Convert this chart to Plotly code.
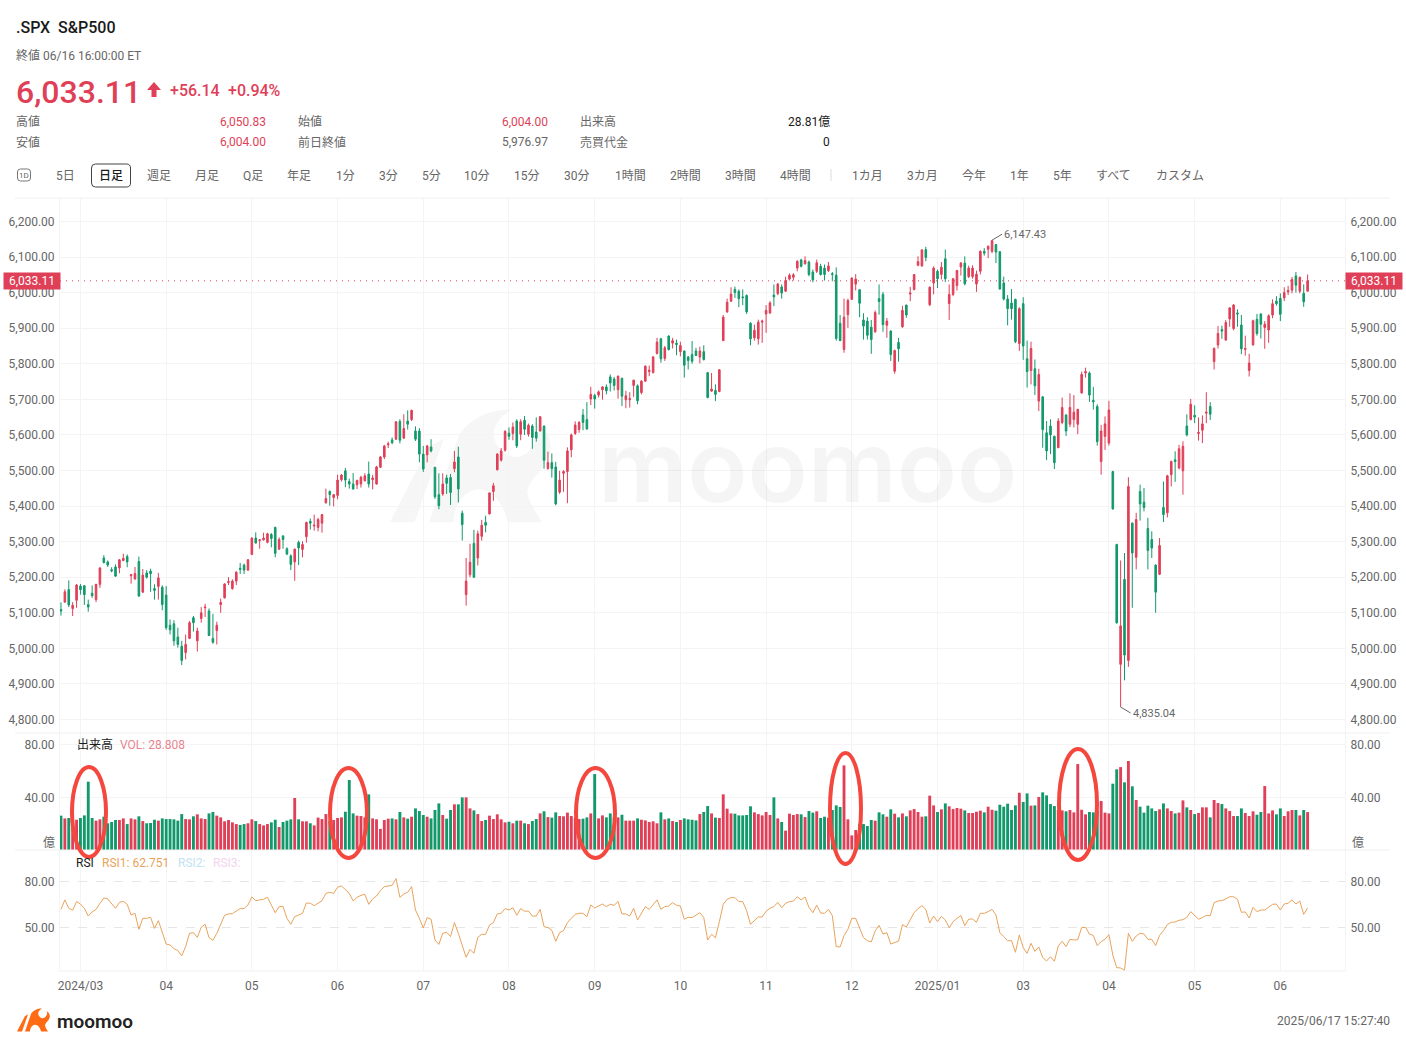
import plotly.graph_objects as go
from plotly.subplots import make_subplots

# Daily S&P500 candles
opens = [
    5109,5130,5165,5112,5135,5175,5176,5123,5155,5137,
    5180,5254,5243,5221,5229,5226,5247,5258,5204,5195,
    5244,5158,5212,5217,5168,5174,5172,5150,5065,5069,
    5032,5006,4988,5028,5086,5021,5084,5114,5105,5028,
    5050,5123,5142,5185,5168,5189,5225,5234,5220,5264,
    5310,5303,5305,5298,5320,5340,5279,5316,5280,5260,
    5243,5298,5278,5314,5357,5344,5340,5352,5409,5441,
    5424,5430,5474,5499,5469,5462,5460,5462,5471,5490,
    5474,5462,5509,5538,5572,5586,5588,5638,5591,5639,
    5643,5611,5611,5546,5544,5566,5509,5432,5434,5479,
    5480,5505,5538,5380,5151,5207,5295,5254,5315,5354,
    5378,5441,5502,5529,5557,5605,5604,5639,5602,5641,
    5602,5625,5608,5611,5625,5505,5522,5510,5439,5492,
    5497,5558,5604,5615,5656,5643,5701,5711,5712,5727,
    5735,5763,5757,5727,5759,5699,5699,5739,5738,5719,
    5751,5778,5775,5829,5870,5815,5878,5858,5858,5834,
    5836,5819,5826,5836,5819,5834,5775,5723,5725,5722,
    5865,5946,5976,6009,6004,5988,5992,5914,5873,5870,
    5917,5940,5943,5993,5997,6016,6004,6038,6043,6069,
    6092,6081,6086,6058,6060,6074,6069,6062,6053,6049,
    5914,5840,5938,5981,6024,6008,5923,5920,5903,5890,
    5983,5995,5908,5892,5779,5860,5904,5965,5996,6009,
    6077,6075,6121,5966,6027,6060,6051,6095,5969,5995,
    6020,6072,6083,6045,6045,6024,6060,6116,6122,6116,
    6135,6115,6027,5982,5971,5981,5857,5969,5814,5781,
    5786,5695,5707,5606,5625,5596,5564,5635,5656,5630,
    5643,5630,5718,5774,5774,5697,5680,5525,5596,5577,
    5497,5292,4955,5194,4966,5352,5256,5441,5411,5337,
    5306,5234,5208,5396,5381,5488,5530,5507,5499,5625,
    5643,5655,5604,5613,5661,5680,5806,5853,5896,5867,
    5926,5899,5943,5909,5840,5781,5853,5925,5940,5902,
    5895,5937,5976,5984,5985,6002,6007,6047,6004,5998,
    6004,
]
highs = [
    5129,5166,5191,5130,5181,5181,5178,5137,5177,5181,
    5228,5262,5247,5228,5236,5251,5266,5264,5209,5229,
    5258,5223,5220,5224,5180,5212,5177,5175,5081,5079,
    5058,5021,5039,5077,5091,5058,5116,5125,5112,5097,
    5075,5140,5183,5200,5194,5217,5240,5238,5251,5312,
    5326,5307,5325,5325,5324,5342,5312,5318,5284,5264,
    5280,5303,5301,5356,5365,5376,5367,5378,5449,5444,
    5434,5488,5490,5507,5477,5493,5474,5485,5492,5525,
    5488,5513,5541,5572,5581,5593,5638,5644,5658,5669,
    5671,5624,5619,5569,5572,5588,5510,5492,5492,5488,
    5490,5555,5567,5387,5254,5294,5333,5331,5361,5373,
    5438,5465,5549,5563,5613,5621,5635,5644,5644,5653,
    5632,5630,5649,5653,5626,5553,5548,5524,5499,5501,
    5565,5604,5638,5639,5673,5692,5735,5716,5725,5737,
    5742,5770,5763,5767,5761,5724,5720,5755,5742,5754,
    5796,5795,5822,5873,5873,5850,5880,5873,5868,5862,
    5837,5822,5864,5845,5848,5852,5777,5774,5742,5785,
    5937,5983,6015,6017,6009,6009,5995,5917,5910,5924,
    5924,5965,5976,6023,6027,6023,6045,6054,6055,6091,
    6095,6102,6090,6065,6093,6081,6079,6086,6058,6071,
    5937,5983,5983,6043,6052,6009,5942,5931,5923,5950,
    6023,6002,5929,5894,5840,5873,5963,5966,6016,6052,
    6102,6122,6129,6018,6074,6065,6086,6121,6023,6041,
    6064,6086,6102,6076,6077,6062,6119,6125,6133,6147.43,
    6137,6117,6045,5993,6010,5983,5959,5987,5865,5862,
    5812,5786,5708,5639,5644,5598,5647,5705,5658,5717,
    5712,5672,5778,5789,5778,5735,5686,5628,5652,5696,
    5499,5294,5247,5268,5481,5354,5381,5460,5451,5367,
    5329,5236,5310,5469,5488,5528,5554,5572,5582,5658,
    5701,5683,5649,5655,5720,5692,5846,5906,5907,5923,
    5959,5968,5953,5937,5879,5828,5924,5940,5942,5920,
    5939,5981,5990,5998,6015,6019,6044,6058,6045,6023,
    6050.83,
]
lows = [
    5092,5128,5116,5091,5114,5151,5122,5103,5142,5130,
    5170,5239,5229,5214,5201,5211,5245,5228,5182,5193,
    5145,5156,5196,5159,5137,5137,5107,5052,5039,5007,
    5002,4953,4969,5026,5047,4991,5072,5088,5035,5013,
    5011,5100,5140,5178,5165,5178,5209,5209,5217,5262,
    5295,5280,5303,5295,5284,5256,5276,5280,5262,5220,
    5190,5234,5256,5297,5334,5331,5329,5325,5407,5401,
    5399,5419,5469,5453,5449,5446,5448,5452,5469,5452,
    5447,5460,5507,5532,5563,5574,5586,5576,5588,5615,
    5639,5583,5523,5496,5523,5551,5420,5391,5429,5434,
    5403,5495,5410,5303,5120,5200,5198,5233,5303,5326,
    5376,5415,5500,5525,5553,5586,5585,5563,5585,5600,
    5595,5561,5581,5610,5505,5503,5480,5402,5434,5440,
    5408,5537,5600,5606,5613,5614,5684,5674,5705,5699,
    5714,5722,5725,5702,5681,5675,5677,5707,5686,5714,
    5750,5765,5773,5826,5803,5808,5837,5843,5824,5821,
    5761,5784,5800,5822,5801,5809,5703,5722,5695,5720,
    5864,5943,5974,5985,5959,5965,5940,5852,5865,5854,
    5859,5887,5940,5962,5993,5983,6002,6034,6034,6060,
    6071,6079,6046,6029,6055,6048,6034,6058,6032,5865,
    5864,5831,5901,5980,6006,5931,5868,5868,5828,5887,
    5938,5890,5873,5808,5772,5806,5901,5929,5976,6006,
    6074,6073,6088,5962,5995,6013,6037,6030,5923,5990,
    6006,6048,6020,6041,6039,6002,6051,6104,6097,6111,
    6083,6009,5978,5908,5924,5858,5836,5811,5733,5742,
    5712,5667,5564,5529,5546,5504,5563,5630,5597,5622,
    5621,5602,5716,5761,5693,5671,5570,5488,5558,5570,
    5390,5069,4835.04,4910,4948,5114,5222,5359,5385,5222,
    5254,5100,5206,5355,5368,5455,5468,5503,5432,5596,
    5641,5633,5584,5577,5633,5642,5784,5843,5870,5864,
    5904,5894,5904,5827,5823,5764,5851,5879,5871,5842,
    5859,5928,5963,5920,5976,5993,5998,6000,5998,5960,
    6004,
]
closes = [
    5105,5159,5122,5121,5178,5165,5151,5116,5148,5180,
    5226,5241,5234,5218,5203,5249,5253,5243,5207,5210,
    5147,5206,5200,5210,5163,5198,5123,5058,5052,5021,
    5011,4966,5011,5072,5072,5049,5100,5116,5036,5017,
    5065,5129,5181,5188,5189,5214,5222,5220,5249,5310,
    5296,5305,5310,5322,5309,5267,5306,5306,5265,5236,
    5279,5282,5292,5354,5352,5346,5362,5376,5421,5432,
    5432,5473,5487,5473,5462,5448,5472,5481,5485,5462,
    5479,5510,5538,5569,5575,5578,5637,5585,5618,5630,
    5669,5588,5546,5504,5569,5555,5426,5401,5462,5464,
    5438,5524,5448,5348,5189,5242,5200,5322,5346,5346,
    5437,5457,5546,5555,5610,5596,5622,5569,5637,5616,
    5627,5593,5591,5651,5529,5522,5505,5406,5473,5497,
    5555,5600,5628,5635,5635,5617,5714,5701,5721,5735,
    5724,5746,5739,5765,5709,5710,5702,5754,5696,5751,
    5793,5782,5819,5861,5814,5845,5840,5865,5854,5851,
    5796,5809,5807,5823,5836,5812,5705,5729,5714,5783,
    5931,5973,5996,6000,5983,5986,5946,5870,5894,5917,
    5920,5950,5971,5988,6024,5999,6034,6049,6050,6088,
    6074,6090,6051,6036,6084,6051,6051,6075,6051,5871,
    5865,5931,5978,6041,6038,5970,5906,5880,5868,5944,
    5975,5910,5920,5826,5837,5842,5950,5937,5999,6051,
    6087,6120,6099,6015,6069,6039,6071,6039,5995,6039,
    6062,6083,6025,6069,6069,6052,6116,6111,6130,6146,
    6114,6010,5982,5955,5955,5862,5955,5850,5778,5843,
    5738,5770,5615,5555,5600,5522,5639,5677,5611,5677,
    5664,5672,5770,5778,5712,5693,5581,5611,5631,5670,
    5392,5072,5063,4981,5455,5268,5362,5406,5396,5275,
    5282,5158,5289,5376,5485,5525,5525,5561,5568,5600,
    5686,5650,5607,5631,5664,5658,5843,5885,5892,5916,
    5957,5965,5940,5842,5843,5802,5921,5885,5911,5911,
    5935,5969,5969,5939,6000,6006,6037,6021,6043,5974,
    6033.11,
]
# Volume in 億
volumes = [
    26.1,24,24.3,23.3,23,24.3,26.3,51.9,24.3,22.3,
    23.3,25.3,20.3,21.3,22.8,22.8,24,19.7,24,23.3,
    25.6,22,20.3,20.5,23,22.3,24,23.5,23.5,23.3,
    22.3,27.3,23.5,23.3,25.6,27.1,24,23.5,27.8,28.9,
    26.1,24.8,21.8,22.8,21,19.7,19,19.7,20.3,23.3,
    22,19.7,18.7,19.7,21,23,17.5,21.3,22.3,23.3,
    39.5,23.3,21.8,21.8,20.3,18.7,24.6,23.5,27.3,22,
    22.8,24.3,24.8,29.1,53.2,27.8,26.1,25.8,24.8,42.3,
    24,23.3,16,22.8,23.8,24,23.3,28.9,24.8,23.8,
    25.3,31.6,29.6,26.6,25.3,24,30.4,35.4,26.6,23.8,
    30.4,34.7,34.7,40,40,31.6,30.1,27.3,22,22.8,
    26.1,23.5,27.1,23.3,21,21.5,20.3,22.3,22.3,20.3,
    19.7,22,23.5,27.8,29.4,25,24.6,28.6,25.8,25.6,
    28.4,25.8,24.3,23.5,23.8,24.8,27.8,57.7,24,26.3,
    24.8,27.8,24.8,24.8,26.8,22.3,22.3,22.3,24,23,
    22.5,21.3,21.8,20.3,28.6,23.3,24,22,21.3,22.8,
    24,23.3,23,22.5,27.3,28.9,33.4,27.8,24.6,24.3,
    42.3,31.4,27.8,27.6,26.3,26.3,26.6,33.2,28.6,27.3,
    26.3,28.9,26.6,40,24,21.3,14.7,27.6,26.6,27.3,
    27.1,25,29.6,28.4,29.4,24.3,25.3,24.6,30.4,33.9,
    32.7,64.3,23.3,11.1,15.2,20,19.7,18.2,22.8,22.3,
    28.6,27.1,25.3,30.9,27.6,24.8,27.8,25.6,30.1,31.1,
    28.9,25.3,25.6,41.3,33.9,28.9,30.9,35.4,33.2,31.1,
    31.9,31.4,30.1,28.1,28.1,29.1,29.9,28.6,32.9,30.6,
    29.9,34.4,32.9,35.2,30.4,33.9,43.5,36.5,43,33.7,
    33.9,40.3,43.8,41.5,34.9,33.4,30.4,30.1,29.4,30.4,
    28.6,65.3,30.6,27.1,28.9,28.6,30,37.2,28.4,27.8,
    50.4,61.3,63,51.4,67.6,48.4,38,32.9,28.4,33.7,
    31.6,29.6,30.9,35.4,31.6,29.6,27.8,28.4,37.7,32.4,
    30.4,27.3,28.1,32.4,32.4,24.8,38,35.7,34.9,31.6,
    29.6,25.8,25.8,31.6,28.1,25.8,29.4,26.8,28.9,48.6,
    27.8,30.1,27.1,31.6,25.8,29.4,30.4,30.4,26.3,30.4,
    28.808,
]
rsi = [
    61.8,68,62.5,61.2,66.9,65.3,62.5,57.4,60.1,61.8,
    65.8,69.3,68.6,65.8,62.5,66.4,67.1,65.1,58.1,59.2,
    48.7,55.9,55.9,56.6,49.3,54.4,46.1,39,38.4,36,
    34.7,31.2,37.3,46.1,46.5,43.4,50,52,43.2,41.5,
    46,52.2,57.9,58.8,59,60.7,62.3,62.3,64.7,69.9,
    67.5,68,68.4,69.7,64.7,59.6,63.6,63.8,55.9,52,
    57,58.1,59.2,66,65.8,64.2,65.8,67.5,72.3,73,
    72.3,76.3,77.2,74.5,72.3,67.3,69.7,71,71.7,65.1,
    68.6,70.6,74.1,76.7,77.4,77.6,82,69.7,71.9,73,
    76.7,61.4,55.9,49.6,56.4,55.3,41.7,38.8,46.1,46.7,
    43.9,53.1,46.1,38,30.3,35.5,32.9,43.4,45.4,45.4,
    51.5,53.1,58.8,59.2,62.3,61.4,62.9,57.9,62.3,60.5,
    60.7,57.4,57.4,61.8,50.4,49.8,48,40.8,46.5,47.8,
    53.1,55.9,58.5,59.2,59.2,57,64.7,62.7,64,65.3,
    63.6,65.1,64.5,66.9,58.8,58.8,57.4,62.5,54.8,59.2,
    63.6,61.8,64.9,68,61.8,63.6,64,66.2,64.5,64,
    55.3,56.6,56.4,58.1,59.6,56.4,41.7,45.4,43.2,53.7,
    65.1,68.4,69.5,69.5,66.9,66.9,60.9,52,54.6,56.8,
    56.8,60.5,62.5,63.6,66.4,62.9,65.8,66.9,67.3,70.1,
    68,69.9,63.1,59.6,64.5,59.4,59.2,61.8,57.7,37.3,
    37.1,44.5,48.7,55.9,55.9,49.3,43.2,41.2,40.4,47.6,
    51.3,45.6,46.5,39,40.1,41,51.8,50.2,55,59.6,
    62.3,64.2,61.8,52.8,57.4,53.7,57.2,54.8,49.8,53.7,
    55.9,57.7,51.1,55.3,55.5,53.3,59.2,59.2,60.3,61.8,
    58.1,46.5,43.9,41.2,41.2,33.6,45,36.6,32.9,39.5,
    34.2,37.1,30.1,27.9,30.7,27.7,37.7,40.8,37.3,42.1,
    41.7,41.9,49.8,50,45.6,44.7,38,40.6,42.1,45.2,
    31.8,23.5,23.3,21.7,46.1,40.8,44.3,46.1,45.6,42.1,
    42.1,38,44.7,47.8,51.8,53.3,53.5,54.6,55,56.6,
    60.3,57.7,55.3,56.4,57.9,57.7,66.2,67.3,67.5,68.6,
    70.1,70.1,68.4,59.9,60.1,56.1,63.1,60.3,61.4,61.4,
    63.1,65.1,65.3,61.4,65.3,65.8,68,65.3,67.3,58.5,
    62.751,
]

last_close = 6033.11
month_labels = ["2024/03", "04", "05", "06", "07", "08", "09", "10", "11", "12",
                "2025/01", "03", "04", "05", "06"]
month_ticks = [5, 27, 49, 71, 93, 115, 137, 159, 181, 203, 225, 247, 269, 291, 313]
price_ticks = [4800, 4900, 5000, 5100, 5200, 5300, 5400, 5500, 5600, 5700, 5800, 5900, 6000, 6100, 6200]

tab_labels = ["5日", "日足", "週足", "月足", "Q足", "年足", "1分", "3分", "5分", "10分", "15分", "30分",
              "1時間", "2時間", "3時間", "4時間", "1カ月", "3カ月", "今年", "1年", "5年", "すべて", "カスタム"]
tab_centers = [65, 111, 159, 207, 253, 299, 345, 388, 431, 477, 527, 577,
               630, 685, 740, 795, 867, 922, 974, 1019, 1062, 1113, 1180]
stat_rows = [
    ("高値", "6,050.83", "始値", "6,004.00", "出来高", "28.81億"),
    ("安値", "6,004.00", "前日終値", "5,976.97", "売買代金", "0"),
]
# left, top, right, bottom of the hand drawn circles
ring_boxes = [(72, 767, 106, 857), (330, 768, 367, 858), (576, 768, 615, 858),
              (830, 753, 861, 864), (1059, 749, 1097, 860)]

assert len(opens) == len(highs) == len(lows) == len(closes) == len(volumes) == len(rsi) == 321

WIDTH, HEIGHT = 1406, 1047
FONT = "Roboto, 'Noto Sans CJK JP', sans-serif"
RED = "#E03F58"
GREEN = "#12996B"
GRAY = "#666666"
DARK = "#1A1A1A"
GRID = "#F4F4F5"


def px(x):
    return x / WIDTH


def py(y):
    return 1 - y / HEIGHT


days = list(range(len(closes)))
vol_colors = [RED if c >= o else GREEN for o, c in zip(opens, closes)]

fig = make_subplots(rows=3, cols=1, shared_xaxes=True, vertical_spacing=0,
                    specs=[[{"secondary_y": True}], [{"secondary_y": True}], [{"secondary_y": True}]])

fig.add_trace(go.Candlestick(
    x=days, open=opens, high=highs, low=lows, close=closes,
    increasing=dict(line=dict(color=RED, width=1), fillcolor=RED),
    decreasing=dict(line=dict(color=GREEN, width=1), fillcolor=GREEN),
    showlegend=False, hoverinfo="skip",
), row=1, col=1)
fig.add_trace(go.Bar(x=days, y=volumes, marker=dict(color=vol_colors, line=dict(width=0)),
                     showlegend=False, hoverinfo="skip"), row=2, col=1)
fig.add_trace(go.Scatter(x=days, y=rsi, mode="lines", line=dict(color="#E9A35C", width=1),
                         showlegend=False, hoverinfo="skip"), row=3, col=1)

# Empty traces so the right hand axes get drawn
for r in (1, 2, 3):
    fig.add_trace(go.Scatter(x=[None], y=[None], showlegend=False, hoverinfo="skip"),
                  row=r, col=1, secondary_y=True)

tick_font = dict(family=FONT, size=12, color=GRAY)
x_common = dict(domain=[px(60), px(1345)], range=[-0.25, 329.6], showgrid=True, gridcolor=GRID,
                gridwidth=1, zeroline=False, showline=False, tickmode="array",
                tickvals=month_ticks, ticktext=month_labels, tickfont=tick_font,
                ticks="outside", ticklen=4, tickcolor="rgba(0,0,0,0)", rangeslider=dict(visible=False))
y_common = dict(zeroline=False, showline=True, linecolor=GRID, linewidth=1, tickfont=tick_font,
                ticks="outside", ticklen=2, tickcolor="rgba(0,0,0,0)", tickmode="array")

price_y = dict(domain=[py(733), py(198)], range=[4762, 6266], tickvals=price_ticks, tickformat=",.2f",
               showgrid=True, gridcolor=GRID, **y_common)
vol_y = dict(domain=[py(850), py(733)], range=[0, 88.9], tickvals=[40, 80], tickformat=".2f",
             showgrid=True, gridcolor=GRID, **y_common)
rsi_y = dict(domain=[py(971), py(850)], range=[21.3, 100.8], tickvals=[50, 80], tickformat=".2f",
             showgrid=True, gridcolor="#E6E6E6", griddash="dash", **y_common)
right_side = dict(side="right", showgrid=False, ticklen=2)

fig.update_layout(
    width=WIDTH, height=HEIGHT, autosize=False,
    margin=dict(l=0, r=0, t=0, b=0, autoexpand=False),
    paper_bgcolor="white", plot_bgcolor="white",
    font=dict(family=FONT, size=12, color=GRAY),
    showlegend=False, boxgap=0.42, bargap=0.26,
    xaxis={**x_common, "showticklabels": False},
    xaxis2={**x_common, "showticklabels": False},
    xaxis3={**x_common, "showticklabels": True},
    yaxis=price_y,
    yaxis2={**price_y, **right_side, "overlaying": "y"},
    yaxis3=vol_y,
    yaxis4={**vol_y, **right_side, "overlaying": "y3"},
    yaxis5=rsi_y,
    yaxis6={**rsi_y, **right_side, "overlaying": "y5"},
)

shapes = []
notes = []


def label(x, y, text, size=12, color=GRAY, anchor="left", weight=None):
    # Nudge for the padding plotly puts around annotation text
    nudge = {"left": -2, "center": 0, "right": 2}[anchor]
    notes.append(dict(xref="paper", yref="paper", x=px(x + nudge), y=py(y + 1), text=text, showarrow=False,
                      xanchor=anchor, yanchor="middle",
                      font=dict(family=FONT, size=size, color=color, weight=weight)))


def to_path(points):
    # Closed polygon/curve from (command, x, y, ...) rows, coordinates in pixels
    out = []
    for cmd, *vals in points:
        pairs = [f"{px(vals[k]):.5f},{py(vals[k + 1]):.5f}" for k in range(0, len(vals), 2)]
        out.append(cmd + " ".join(pairs))
    return " ".join(out) + " Z"


def add_logo(left, top, scale, color, layer):
    # Bull mark, drawn on a 33 x 24 grid: stripe on the left, body on the right
    def p(*vals):
        return [left + v * scale if k % 2 == 0 else top + v * scale for k, v in enumerate(vals)]

    stripe = [("M", *p(0, 23.5)), ("L", *p(8, 8)), ("L", *p(11, 6.5)), ("L", *p(5, 23.5))]
    body = [("M", *p(8, 23.5)), ("L", *p(14, 6)), ("C", *p(16, 2.5, 20, 0.5, 25, 0.5)),
            ("C", *p(22, 2, 20, 5, 22, 8)), ("C", *p(25, 12, 29, 10, 30, 6)),
            ("C", *p(30.5, 5, 30, 3.5, 29, 3)), ("C", *p(32, 4, 33.5, 7, 32.5, 10)),
            ("C", *p(31.5, 13, 29, 14, 28, 17)), ("C", *p(28, 19, 29.5, 21, 31, 23.5)),
            ("L", *p(24, 23.5)), ("C", *p(23, 19, 20, 16, 17, 17)), ("C", *p(14, 18, 13, 21, 13, 23.5))]
    for piece in (stripe, body):
        shapes.append(dict(type="path", xref="paper", yref="paper", layer=layer, fillcolor=color,
                           line=dict(width=0), path=to_path(piece)))


def round_box(x0, y0, x1, y1, r):
    return (f"M{px(x0 + r):.5f},{py(y0):.5f} L{px(x1 - r):.5f},{py(y0):.5f} "
            f"Q{px(x1):.5f},{py(y0):.5f} {px(x1):.5f},{py(y0 + r):.5f} "
            f"L{px(x1):.5f},{py(y1 - r):.5f} Q{px(x1):.5f},{py(y1):.5f} {px(x1 - r):.5f},{py(y1):.5f} "
            f"L{px(x0 + r):.5f},{py(y1):.5f} Q{px(x0):.5f},{py(y1):.5f} {px(x0):.5f},{py(y1 - r):.5f} "
            f"L{px(x0):.5f},{py(y0 + r):.5f} Q{px(x0):.5f},{py(y0):.5f} {px(x0 + r):.5f},{py(y0):.5f} Z")


# Header
label(16, 27, ".SPX&nbsp;&nbsp;S&amp;P500", size=16, color=DARK, weight=500)
label(16, 55, "終値 06/16 16:00:00 ET", size=12)
label(16, 91, "6,033.11", size=32, color=RED, weight=500)
label(170, 89, "+56.14", size=16, color=RED, weight=500)
label(228, 89, "+0.94%", size=16, color=RED, weight=500)
shapes.append(dict(type="path", xref="paper", yref="paper", fillcolor=RED, line=dict(width=0),
                   path=f"M{px(154)},{py(82)} L{px(161)},{py(90)} L{px(156.5)},{py(90)} L{px(156.5)},{py(97)} "
                        f"L{px(151.5)},{py(97)} L{px(151.5)},{py(90)} L{px(147)},{py(90)} Z"))

for row_y, row in zip((121, 141), stat_rows):
    label(16, row_y, row[0])
    label(266, row_y, row[1], color=RED, anchor="right")
    label(298, row_y, row[2])
    label(548, row_y, row[3], color=RED if row[3] == "6,004.00" else GRAY, anchor="right")
    label(580, row_y, row[4])
    label(830, row_y, row[5], color=DARK, anchor="right")

# Period tabs
label(24, 174, "1D", size=8, anchor="center")
shapes.append(dict(type="path", xref="paper", yref="paper", line=dict(color="#777777", width=1),
                   path=round_box(17.5, 169, 30.5, 181, 3)))
for name, center in zip(tab_labels, tab_centers):
    active = name == "日足"
    label(center, 175, name, color=DARK if active else GRAY, anchor="center", weight=500 if active else None)
shapes.append(dict(type="path", xref="paper", yref="paper", line=dict(color="#444444", width=1),
                   path=round_box(91.5, 164, 130.5, 187, 4)))
shapes.append(dict(type="line", xref="paper", yref="paper", x0=px(831), x1=px(831), y0=py(169), y1=py(181),
                   line=dict(color="#DDDDDD", width=1)))

# Panel separators
for sep_y in (198, 733, 850):
    shapes.append(dict(type="line", xref="paper", yref="paper", x0=px(15), x1=px(1390), y0=py(sep_y), y1=py(sep_y),
                       line=dict(color="#F0F0F0", width=1)))
shapes.append(dict(type="line", xref="paper", yref="paper", x0=px(60), x1=px(1345), y0=py(971), y1=py(971),
                   line=dict(color="#F0F0F0", width=1)))

# Watermark
add_logo(390, 407, 4.9, "#F6F6F6", "below")
notes.append(dict(xref="paper", yref="paper", x=px(808), y=py(466), text="moomoo", showarrow=False,
                  xanchor="center", yanchor="middle",
                  font=dict(family="Inter, Roboto", size=99, color="rgba(0,0,0,0.04)", weight=600)))

# Last price line and tags
shapes.append(dict(type="line", xref="paper", yref="y", x0=px(60), x1=px(1345), y0=last_close, y1=last_close,
                   line=dict(color=RED, width=1, dash="1px,5px")))
for tag_x in (32, 1374):
    notes.append(dict(xref="paper", yref="y", x=px(tag_x), y=last_close, text=f"{last_close:,.2f}", showarrow=False,
                      xanchor="center", yanchor="middle", width=56, height=16, bgcolor=RED, borderpad=0,
                      font=dict(family=FONT, size=12, color="white")))

# High and low markers
peak = highs.index(max(highs))
trough = lows.index(min(lows))
notes.append(dict(xref="x", yref="y", x=peak, y=highs[peak], text=f"{highs[peak]:,.2f}", showarrow=True,
                  arrowhead=0, arrowwidth=1, arrowcolor="#666666", ax=10, ay=-6, xanchor="left", standoff=0,
                  font=dict(family=FONT, size=11, color=GRAY)))
notes.append(dict(xref="x", yref="y", x=trough, y=lows[trough], text=f"{lows[trough]:,.2f}", showarrow=True,
                  arrowhead=0, arrowwidth=1, arrowcolor="#666666", ax=10, ay=6, xanchor="left", standoff=0,
                  font=dict(family=FONT, size=11, color=GRAY)))

# Panel captions
label(77, 744, "出来高", color=DARK)
label(120, 744, "VOL: 28.808", color="#E8838F")
label(43, 842, "億")
label(1352, 842, "億")
label(76, 862, "RSI", color=DARK)
label(102, 862, "RSI1: 62.751", color="#E9A35C")
label(178, 862, "RSI2:", color="#BFE3F2")
label(213, 862, "RSI3:", color="#F3D3EE")

# Red rings around the volume spikes
for x0, y0, x1, y1 in ring_boxes:
    shapes.append(dict(type="circle", xref="paper", yref="paper", x0=px(x0), x1=px(x1), y0=py(y1), y1=py(y0),
                       line=dict(color="#F4483F", width=4)))

# Footer
add_logo(17, 1008, 1, "#FF6A13", "above")
label(57, 1020, "moomoo", size=19, color="#222222", weight=600)
label(1390, 1020, "2025/06/17 15:27:40", anchor="right")

fig.update_layout(shapes=shapes, annotations=notes)

fig.write_html("out.html", config={"displayModeBar": False}, post_script="document.body.style.margin='0';")
